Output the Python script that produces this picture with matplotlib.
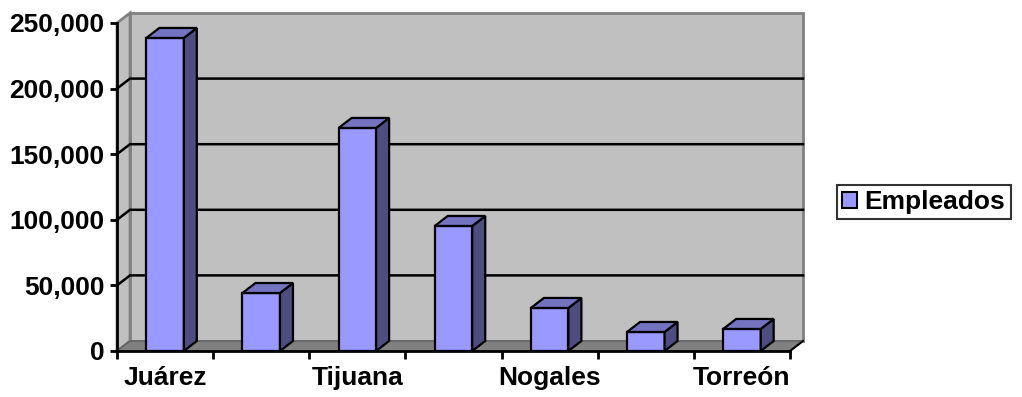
import matplotlib
matplotlib.use("Agg")
import matplotlib.pyplot as plt
from matplotlib.patches import Polygon, Patch
from matplotlib.ticker import FuncFormatter
import numpy as np

# data (unlabeled categories left blank)
ciudades = ["Juárez", "", "Tijuana", "", "Nogales", "", "Torreón"]
empleados = [238600, 44200, 170000, 95300, 32800, 14500, 16800]
serie = "Empleados"

plt.rcParams['font.family'] = ['Liberation Sans', 'DejaVu Sans']

fig = plt.figure(figsize=(10.22, 3.97), dpi=100)
ax = fig.add_axes([117/1022, 46/397, 673/1022, 328/397])

n = len(ciudades)
ymax = 250000
dx = 13 / 96.1            # depth in category units
dy = 10 / 65.6 * 50000    # depth in value units

front = "#9999ff"
side = "#4d4d80"
top = "#7373bf"
wall = "#c0c0c0"
floor = "#808080"

# walls and floor
ax.add_patch(Polygon([(dx, dy), (n + dx, dy), (n + dx, ymax + dy), (dx, ymax + dy)],
                     closed=True, fc=wall, ec=floor, lw=2, zorder=1, clip_on=False))
ax.add_patch(Polygon([(0, 0), (dx, dy), (dx, ymax + dy), (0, ymax)],
                     closed=True, fc=wall, ec=floor, lw=2, zorder=1, clip_on=False))
ax.add_patch(Polygon([(0, 0), (n, 0), (n + dx, dy), (dx, dy)],
                     closed=True, fc=floor, ec="#606060", lw=1, zorder=2, clip_on=False))
ax.plot([n, n + dx], [0, dy], color="black", lw=1.5, zorder=3, clip_on=False)

# gridlines on walls
for v in range(50000, ymax, 50000):
    ax.plot([0, dx, n + dx], [v, v + dy, v + dy], color="black", lw=1.8, zorder=2, clip_on=False)

# bars
x = np.arange(n) + 0.5
w = 0.39
ax.bar(x, empleados, width=w, color=front, edgecolor="black", linewidth=1.6, zorder=5, label=serie)
for xi, v in zip(x, empleados):
    l, r = xi - w / 2, xi + w / 2
    ax.add_patch(Polygon([(r, 0), (r + dx, dy), (r + dx, v + dy), (r, v)],
                         closed=True, fc=side, ec="black", lw=1.6, zorder=5, clip_on=False))
    ax.add_patch(Polygon([(l, v), (r, v), (r + dx, v + dy), (l + dx, v + dy)],
                         closed=True, fc=top, ec="black", lw=1.6, zorder=5, clip_on=False))

ax.set_xlim(0, n)
ax.set_ylim(0, ymax)
for s in ["top", "right"]:
    ax.spines[s].set_visible(False)
for s in ["left", "bottom"]:
    ax.spines[s].set_linewidth(2)
    ax.spines[s].set_zorder(6)
ax.patch.set_visible(False)

ax.set_yticks(range(0, ymax + 1, 50000))
ax.yaxis.set_major_formatter(FuncFormatter(lambda v, p: f"{int(v):,}"))
ax.tick_params(axis="y", length=5, width=2, pad=4, labelsize=19)
for t in ax.get_yticklabels():
    t.set_fontweight("bold")

ax.set_xticks(range(n + 1))
ax.set_xticklabels([])
ax.set_xticks(x, minor=True)
ax.set_xticklabels(ciudades, minor=True, fontsize=19, fontweight="bold")
ax.tick_params(axis="x", which="major", length=6, width=2)
ax.tick_params(axis="x", which="minor", length=0, pad=11)

handle = Patch(fc=front, ec="black", lw=1.5)
leg = fig.legend([handle], [serie], loc="center left",
                 bbox_to_anchor=(837/1022, 1 - 202/397), frameon=True, fancybox=False,
                 prop={"size": 19, "weight": "bold"}, handlelength=0.55, handleheight=0.55,
                 handletextpad=0.3, borderpad=0.2, borderaxespad=0)
leg.get_frame().set_edgecolor("black")
leg.get_frame().set_linewidth(1.5)

fig.savefig("out.png", dpi=100)
